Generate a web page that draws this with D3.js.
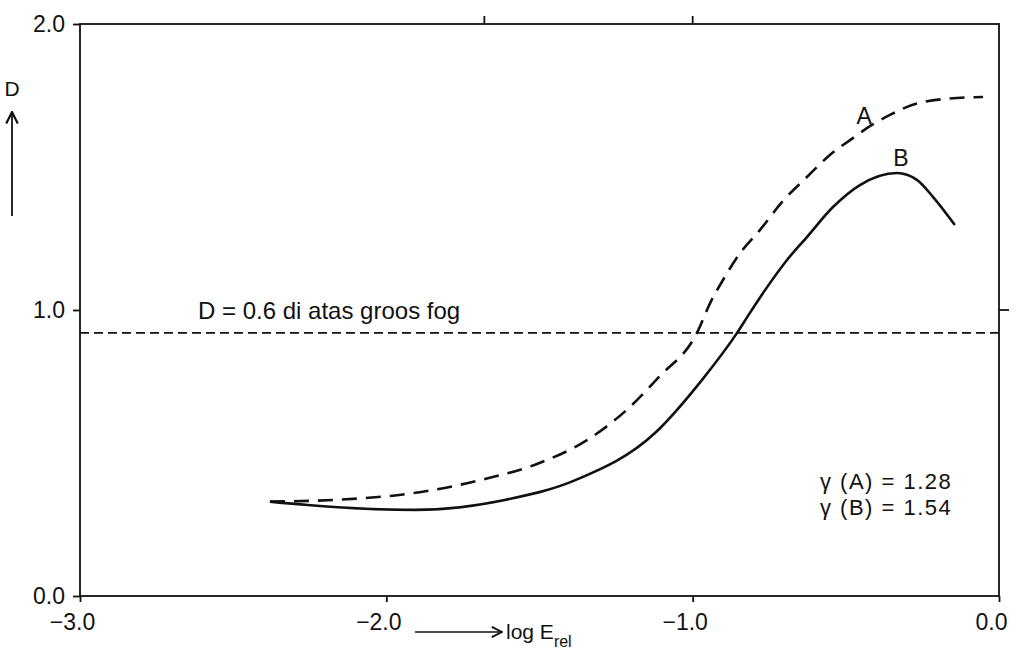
<!DOCTYPE html>
<html>
<head>
<meta charset="utf-8">
<script src="https://cdn.jsdelivr.net/npm/d3@7"></script>
<style>
  body { margin: 0; background: #fff; }
  svg { display: block; }
  text { font-family: "Liberation Sans", Arial, sans-serif; fill: #111; }
</style>
</head>
<body>
<div id="chart"></div>
<script>
// log E_rel values and densities
const curveA = [
  [-2.38, 0.33], [-2.17, 0.336], [-1.91, 0.36], [-1.69, 0.406], [-1.50, 0.465],
  [-1.345, 0.545], [-1.205, 0.661], [-1.11, 0.766], [-0.986, 0.92], [-0.943, 1.024],
  [-0.901, 1.105], [-0.845, 1.199], [-0.78, 1.28], [-0.708, 1.378], [-0.627, 1.465],
  [-0.552, 1.542], [-0.477, 1.601], [-0.415, 1.647], [-0.356, 1.682], [-0.284, 1.717],
  [-0.176, 1.738], [-0.052, 1.745]
];
const curveB = [
  [-2.38, 0.33], [-2.256, 0.318], [-1.906, 0.301], [-1.613, 0.336], [-1.381, 0.406],
  [-1.123, 0.57], [-0.97, 0.755], [-0.855, 0.92], [-0.813, 0.99], [-0.757, 1.08],
  [-0.692, 1.175], [-0.627, 1.255], [-0.542, 1.36], [-0.454, 1.437], [-0.333, 1.479],
  [-0.268, 1.455], [-0.215, 1.395], [-0.144, 1.297]
];
const fogLine = 0.92;          // D = 0.6 above gross fog
const xTicks = [-3, -2, -1, 0];
const yTicks = [0, 1, 2];
const topTicks = [-1.68, -1];
const rightTicks = [1];
const curveLabels = [
  { name: "A", x: -0.44, y: 1.68 },
  { name: "B", x: -0.32, y: 1.53 }
];
const gammaLines = ["γ (A) = 1.28", "γ (B) = 1.54"];

const width = 1017, height = 659;
const margin = { left: 80, right: 18, top: 24, bottom: 63 };

const svg = d3.select("#chart").append("svg")
    .attr("width", width)
    .attr("height", height);

const x = d3.scaleLinear().domain([-3, 0]).range([margin.left, width - margin.right]);
const y = d3.scaleLinear().domain([0, 2]).range([height - margin.bottom, margin.top]);
const fmt = d3.format(".1f");

// frame
svg.append("rect")
    .attr("x", x(-3)).attr("y", y(2))
    .attr("width", x(0) - x(-3)).attr("height", y(0) - y(2))
    .attr("fill", "none").attr("stroke", "#111").attr("stroke-width", 1.8);

// left axis
const left = svg.append("g")
    .attr("transform", `translate(${x(-3)},0)`)
    .call(d3.axisLeft(y).tickValues(yTicks).tickSize(7).tickPadding(8).tickFormat(fmt));
left.select(".domain").remove();
left.selectAll("line").attr("stroke", "#111").attr("stroke-width", 1.8);
left.selectAll("text").style("font-size", "23px").attr("fill", "#111")
    .attr("font-family", "Liberation Sans, Arial, sans-serif");

// bottom axis
const bottom = svg.append("g")
    .attr("transform", `translate(0,${y(0)})`)
    .call(d3.axisBottom(x).tickValues(xTicks).tickSize(6).tickPadding(12).tickFormat(fmt));
bottom.select(".domain").remove();
bottom.selectAll("line").attr("stroke", "#111").attr("stroke-width", 1.8);
bottom.selectAll("text").style("font-size", "23px").attr("fill", "#111")
    .attr("dx", -8)
    .attr("font-family", "Liberation Sans, Arial, sans-serif");

// small ticks on top and right
svg.append("g").selectAll("line").data(topTicks).join("line")
    .attr("x1", d => x(d)).attr("x2", d => x(d))
    .attr("y1", y(2)).attr("y2", y(2) - 8)
    .attr("stroke", "#111").attr("stroke-width", 1.8);
svg.append("g").selectAll("line").data(rightTicks).join("line")
    .attr("x1", x(0)).attr("x2", x(0) + 10)
    .attr("y1", d => y(d)).attr("y2", d => y(d))
    .attr("stroke", "#111").attr("stroke-width", 1.8);

// D = 0.6 above fog line
svg.append("line")
    .attr("x1", x(-3)).attr("x2", x(0))
    .attr("y1", y(fogLine)).attr("y2", y(fogLine))
    .attr("stroke", "#111").attr("stroke-width", 1.6)
    .attr("stroke-dasharray", "9,5");
svg.append("text")
    .attr("x", 198).attr("y", y(fogLine) - 14)
    .style("font-size", "24px")
    .text("D = 0.6 di atas groos fog");

// curves
const line = d3.line()
    .x(d => x(d[0]))
    .y(d => y(d[1]))
    .curve(d3.curveMonotoneX);

svg.append("path")
    .datum(curveA)
    .attr("d", line)
    .attr("fill", "none").attr("stroke", "#111").attr("stroke-width", 2.6)
    .attr("stroke-dasharray", "15,9");

svg.append("path")
    .datum(curveB)
    .attr("d", line)
    .attr("fill", "none").attr("stroke", "#111").attr("stroke-width", 2.6);

svg.selectAll(".clabel").data(curveLabels).join("text")
    .attr("class", "clabel")
    .attr("x", d => x(d.x)).attr("y", d => y(d.y))
    .attr("text-anchor", "middle").attr("dy", "0.35em")
    .style("font-size", "23px")
    .text(d => d.name);

// gamma values
svg.selectAll(".gamma").data(gammaLines).join("text")
    .attr("class", "gamma")
    .attr("x", 820).attr("y", (d, i) => 489 + i * 26)
    .style("font-size", "22px")
    .style("letter-spacing", "1.5px")
    .text(d => d);

// y axis title with arrow
const arrow = svg.append("defs").append("marker")
    .attr("id", "arr").attr("viewBox", "0 0 10 10")
    .attr("refX", 9).attr("refY", 5)
    .attr("markerWidth", 8).attr("markerHeight", 8)
    .attr("orient", "auto");
arrow.append("path").attr("d", "M1,1 L9,5 L1,9").attr("fill", "none")
    .attr("stroke", "#111").attr("stroke-width", 1.5);

svg.append("text")
    .attr("x", 12).attr("y", 96)
    .attr("text-anchor", "middle")
    .style("font-size", "21px")
    .text("D");
svg.append("line")
    .attr("x1", 12).attr("x2", 12).attr("y1", 216).attr("y2", 112)
    .attr("stroke", "#111").attr("stroke-width", 1.8)
    .attr("marker-end", "url(#arr)");

// x axis title with arrow
svg.append("line")
    .attr("x1", 415).attr("x2", 502).attr("y1", 632).attr("y2", 632)
    .attr("stroke", "#111").attr("stroke-width", 1.6)
    .attr("marker-end", "url(#arr)");
const xt = svg.append("text")
    .attr("x", 506).attr("y", 639)
    .style("font-size", "21px");
xt.append("tspan").text("log E");
xt.append("tspan").attr("dy", 8).style("font-size", "16px").text("rel");
</script>
</body>
</html>
